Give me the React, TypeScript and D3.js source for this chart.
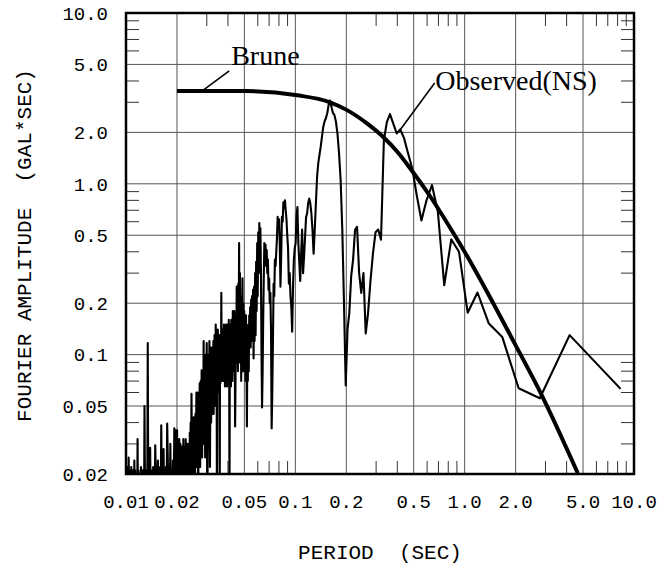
import React from 'react';
import * as d3 from 'd3';

const W = 667;
const H = 568;
const PLOT = { left: 126, right: 634, top: 13, bottom: 474 };

// axis ticks
const xTickValues = [0.01, 0.02, 0.05, 0.1, 0.2, 0.5, 1, 2, 5, 10];
const xTickLabels = ['0.01', '0.02', '0.05', '0.1', '0.2', '0.5', '1.0', '2.0', '5.0', '10.0'];
const yTickValues = [10, 5, 2, 1, 0.5, 0.2, 0.1, 0.05, 0.02];
const yTickLabels = ['10.0', '5.0', '2.0', '1.0', '0.5', '0.2', '0.1', '0.05', '0.02'];
const xGridValues = [0.02, 0.05, 0.1, 0.2, 0.5, 1, 2, 5];
const yGridValues = [5, 2, 1, 0.5, 0.2, 0.1, 0.05];
const minorMultipliers = [3, 4, 6, 7, 8, 9];
const decades = [0.01, 0.1, 1];

// Brune model spectrum (period s, amplitude gal*s)
const brunePeriod = [0.02, 0.0506, 0.1025, 0.159, 0.202, 0.266, 0.34, 0.4, 0.477, 0.628, 0.788, 0.991, 1.36, 1.94, 2.85, 4.66];
const bruneAmp = [3.49, 3.49, 3.3, 3.01, 2.7, 2.25, 1.83, 1.54, 1.23, 0.84, 0.59, 0.406, 0.232, 0.12, 0.058, 0.0202];

// Observed (NS) Fourier spectrum, sampled on a uniform frequency grid
const FREQ_STEP = 0.12; // Hz
// lines 1..83
const obsAmpLow = [
  0.063, 0.13, 0.0555, 0.0635, 0.127, 0.152, 0.231, 0.176, 0.4, 0.473,
  0.255, 0.687, 0.984, 0.8, 0.61, 0.86, 1.23, 1.51, 1.85, 2.08,
  1.97, 2.25, 2.56, 2.3, 1.8, 0.47, 0.54, 0.52, 0.39, 0.27,
  0.175, 0.133, 0.3, 0.23, 0.3, 0.56, 0.537, 0.36, 0.287, 0.175,
  0.14, 0.066, 0.2, 0.54, 1.05, 1.51, 1.97, 2.32, 2.53, 2.6,
  2.83, 3.07, 2.9, 2.59, 2.42, 2.32, 2.16, 1.89, 1.65, 1.48,
  1.32, 1.1, 0.77, 0.54, 0.39, 0.54, 0.67, 0.77, 0.82, 0.77,
  0.67, 0.64, 0.49, 0.375, 0.3, 0.54, 0.39, 0.27, 0.35, 0.45,
  0.73, 0.65, 0.45,
];
// lines 84..168
const obsAmpMid = [
  0.42, 0.36, 0.25, 0.136, 0.19, 0.22, 0.3, 0.26, 0.42, 0.5,
  0.62, 0.7, 0.8, 0.72, 0.78, 0.6, 0.64, 0.38, 0.25, 0.45,
  0.62, 0.55, 0.64, 0.48, 0.4, 0.33, 0.36, 0.22, 0.26, 0.12,
  0.06, 0.037, 0.14, 0.23, 0.2, 0.28, 0.24, 0.36, 0.3, 0.41,
  0.33, 0.44, 0.36, 0.45, 0.28, 0.16, 0.08, 0.049, 0.1, 0.3,
  0.55, 0.42, 0.59, 0.3, 0.52, 0.22, 0.45, 0.18, 0.35, 0.13,
  0.3, 0.12, 0.25, 0.095, 0.24, 0.14, 0.22, 0.12, 0.21, 0.11,
  0.19, 0.13, 0.17, 0.08, 0.15, 0.07, 0.11, 0.038, 0.09, 0.17,
  0.07, 0.15, 0.09, 0.18, 0.08,
];
// lines 169..260
const obsAmpHigh = [
  0.2, 0.08, 0.28, 0.11, 0.22, 0.07, 0.19, 0.12, 0.3, 0.09,
  0.45, 0.14, 0.26, 0.08, 0.2, 0.1, 0.25, 0.09, 0.17, 0.07,
  0.038, 0.12, 0.18, 0.08, 0.16, 0.1, 0.18, 0.07, 0.14, 0.09,
  0.16, 0.065, 0.13, 0.08, 0.15, 0.012, 0.1, 0.16, 0.07, 0.13,
  0.08, 0.15, 0.065, 0.12, 0.09, 0.15, 0.07, 0.13, 0.065, 0.14,
  0.09, 0.15, 0.07, 0.12, 0.08, 0.14, 0.07, 0.13, 0.1, 0.23,
  0.08, 0.13, 0.068, 0.11, 0.012, 0.09, 0.13, 0.06, 0.12, 0.07,
  0.14, 0.06, 0.1, 0.012, 0.09, 0.14, 0.05, 0.15, 0.07, 0.12,
  0.05, 0.13, 0.06, 0.11, 0.045, 0.12, 0.06, 0.1, 0.045, 0.11,
  0.05, 0.1,
];
// lines 262..420, every 2nd line
const obsAmpUpper = [
  0.04, 0.11, 0.022, 0.12, 0.05, 0.1, 0.03, 0.012, 0.117, 0.04,
  0.1, 0.025, 0.09, 0.035, 0.12, 0.03, 0.08, 0.025, 0.081, 0.03,
  0.07, 0.022, 0.068, 0.03, 0.06, 0.012, 0.05, 0.06, 0.022, 0.06,
  0.025, 0.045, 0.018, 0.04, 0.022, 0.043, 0.016, 0.035, 0.043, 0.02,
  0.059, 0.022, 0.04, 0.016, 0.035, 0.018, 0.03, 0.015, 0.027, 0.016,
  0.03, 0.014, 0.026, 0.017, 0.032, 0.015, 0.025, 0.014, 0.029, 0.016,
  0.032, 0.014, 0.027, 0.016, 0.029, 0.014, 0.026, 0.015, 0.03, 0.016,
  0.028, 0.032, 0.015, 0.025, 0.015, 0.03, 0.014, 0.036, 0.016, 0.028,
];
// lines 424..832, every 4th line
const obsAmpTop = [
  0.036, 0.016, 0.037, 0.014, 0.024, 0.013, 0.02, 0.015, 0.03, 0.013,
  0.022, 0.014, 0.025, 0.0395, 0.014, 0.022, 0.013, 0.021, 0.014, 0.028,
  0.013, 0.02, 0.015, 0.0385, 0.013, 0.022, 0.014, 0.021, 0.012, 0.024,
  0.013, 0.019, 0.014, 0.021, 0.0294, 0.013, 0.02, 0.012, 0.022, 0.013,
  0.019, 0.012, 0.021, 0.013, 0.0285, 0.012, 0.02, 0.013, 0.018, 0.117,
  0.013, 0.02, 0.012, 0.021, 0.013, 0.019, 0.05, 0.012, 0.02, 0.013,
  0.021, 0.012, 0.018, 0.013, 0.022, 0.012, 0.02, 0.013, 0.018, 0.012,
  0.021, 0.013, 0.032, 0.012, 0.02, 0.013, 0.019, 0.012, 0.021, 0.013,
  0.024, 0.012, 0.018, 0.013, 0.021, 0.012, 0.019, 0.013, 0.022, 0.012,
  0.018, 0.013, 0.021, 0.012, 0.019, 0.025, 0.012, 0.02, 0.013, 0.022,
  0.012, 0.021, 0.014,
];
const obsSegments = [
  { startLine: 1, every: 1, amp: obsAmpLow },
  { startLine: 84, every: 1, amp: obsAmpMid },
  { startLine: 169, every: 1, amp: obsAmpHigh },
  { startLine: 262, every: 2, amp: obsAmpUpper },
  { startLine: 424, every: 4, amp: obsAmpTop },
];

// annotations (data coordinates)
const bruneLabel = { text: 'Brune', from: [0.0286, 3.54], to: [0.0407, 4.58], at: [0.0418, 4.96] };
const obsLabel = { text: 'Observed(NS)', from: [0.407, 2.01], to: [0.665, 3.89], at: [0.67, 3.54] };

export default function App() {
  const x = d3.scaleLog().domain([0.01, 10]).range([PLOT.left, PLOT.right]);
  const y = d3.scaleLog().domain([0.02, 10]).range([PLOT.bottom, PLOT.top]);

  const observed: [number, number][] = [];
  obsSegments.forEach((seg) => {
    seg.amp.forEach((a, i) => {
      const k = seg.startLine + i * seg.every;
      observed.push([1 / (k * FREQ_STEP), a]);
    });
  });

  const line = d3
    .line<[number, number]>()
    .x((d) => x(d[0]))
    .y((d) => y(d[1]));
  const smooth = d3
    .line<[number, number]>()
    .x((d) => x(d[0]))
    .y((d) => y(d[1]))
    .curve(d3.curveMonotoneX);
  const brune: [number, number][] = brunePeriod.map((p, i) => [p, bruneAmp[i]]);

  const xMinor: number[] = [];
  decades.forEach((d) => minorMultipliers.forEach((m) => xMinor.push(d * m)));
  const yMinor: number[] = [];
  decades.forEach((d) =>
    minorMultipliers.forEach((m) => {
      const v = d * m;
      if (v > 0.02 && v < 10) yMinor.push(v);
    })
  );
  const TL = 13;
  const mono = '"Liberation Mono", "DejaVu Sans Mono", monospace';
  const serif = '"Liberation Serif", "DejaVu Serif", serif';
  const gridColor = '#555';

  return (
    <svg
      width={W}
      height={H}
      style={{ position: 'absolute', left: 0, top: 0, background: '#fff' }}
    >
      <defs>
        <clipPath id="plotClip">
          <rect x={PLOT.left} y={PLOT.top} width={PLOT.right - PLOT.left} height={PLOT.bottom - PLOT.top} />
        </clipPath>
      </defs>
      <rect x={0} y={0} width={W} height={H} fill="#fff" />
      {xGridValues.map((v) => (
        <line key={'gx' + v} x1={x(v)} x2={x(v)} y1={PLOT.top} y2={PLOT.bottom} stroke={gridColor} strokeWidth={1} />
      ))}
      {yGridValues.map((v) => (
        <line key={'gy' + v} x1={PLOT.left} x2={PLOT.right} y1={y(v)} y2={y(v)} stroke={gridColor} strokeWidth={1} />
      ))}
      {xMinor.map((v) => (
        <g key={'mx' + v}>
          <line x1={x(v)} x2={x(v)} y1={PLOT.bottom} y2={PLOT.bottom - TL} stroke="#333" strokeWidth={1} />
          <line x1={x(v)} x2={x(v)} y1={PLOT.top} y2={PLOT.top + TL} stroke="#333" strokeWidth={1} />
        </g>
      ))}
      {yMinor.map((v) => (
        <g key={'my' + v}>
          <line x1={PLOT.left} x2={PLOT.left + TL} y1={y(v)} y2={y(v)} stroke="#333" strokeWidth={1} />
          <line x1={PLOT.right} x2={PLOT.right - TL} y1={y(v)} y2={y(v)} stroke="#333" strokeWidth={1} />
        </g>
      ))}
      <g clipPath="url(#plotClip)">
        <path d={line(observed) || ''} fill="none" stroke="#000" strokeWidth={2.1} strokeLinejoin="round" />
        <path d={smooth(brune) || ''} fill="none" stroke="#000" strokeWidth={4} />
      </g>
      {[bruneLabel, obsLabel].map((a) => (
        <g key={a.text}>
          <line
            x1={x(a.from[0])}
            y1={y(a.from[1])}
            x2={x(a.to[0])}
            y2={y(a.to[1])}
            stroke="#000"
            strokeWidth={1.6}
          />
          <text x={x(a.at[0])} y={y(a.at[1])} fontFamily={serif} fontSize={28} fill="#000">
            {a.text}
          </text>
        </g>
      ))}
      <rect
        x={PLOT.left}
        y={PLOT.top}
        width={PLOT.right - PLOT.left}
        height={PLOT.bottom - PLOT.top}
        fill="none"
        stroke="#000"
        strokeWidth={2.5}
      />
      {yTickValues.map((v, i) => (
        <text key={'yl' + v} x={108} y={y(v)} dy="0.36em" textAnchor="end" fontFamily={mono} fontSize={19} fill="#000">
          {yTickLabels[i]}
        </text>
      ))}
      {xTickValues.map((v, i) => (
        <text key={'xl' + v} x={x(v)} y={508} textAnchor="middle" fontFamily={mono} fontSize={19} fill="#000">
          {xTickLabels[i]}
        </text>
      ))}
      <text
        x={(PLOT.left + PLOT.right) / 2}
        y={559}
        textAnchor="middle"
        fontFamily={mono}
        fontSize={21}
        fill="#000"
        style={{ whiteSpace: 'pre' }}
      >
        {'PERIOD  (SEC)'}
      </text>
      <text
        transform={`translate(31, ${(PLOT.top + PLOT.bottom) / 2 + 2}) rotate(-90)`}
        textAnchor="middle"
        fontFamily={mono}
        fontSize={21}
        fill="#000"
        style={{ whiteSpace: 'pre' }}
      >
        {'FOURIER AMPLITUDE  (GAL*SEC)'}
      </text>
    </svg>
  );
}
